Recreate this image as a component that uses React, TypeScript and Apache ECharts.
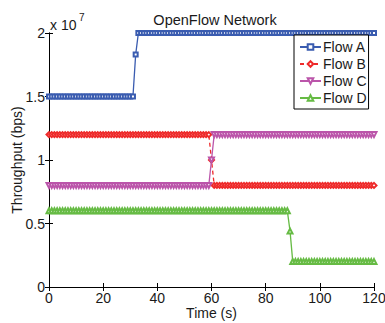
import React, { useEffect, useRef } from "react";
import * as echarts from "echarts";

// Time stamps (s)
const times = [
  0, 1, 2, 3, 4, 5, 6, 7, 8, 9,
  10, 11, 12, 13, 14, 15, 16, 17, 18, 19,
  20, 21, 22, 23, 24, 25, 26, 27, 28, 29,
  30, 31, 32, 33, 34, 35, 36, 37, 38, 39,
  40, 41, 42, 43, 44, 45, 46, 47, 48, 49,
  50, 51, 52, 53, 54, 55, 56, 57, 58, 59,
  60, 61, 62, 63, 64, 65, 66, 67, 68, 69,
  70, 71, 72, 73, 74, 75, 76, 77, 78, 79,
  80, 81, 82, 83, 84, 85, 86, 87, 88, 89,
  90, 91, 92, 93, 94, 95, 96, 97, 98, 99,
  100, 101, 102, 103, 104, 105, 106, 107, 108, 109,
  110, 111, 112, 113, 114, 115, 116, 117, 118, 119,
  120,
];

// Throughput in units of 10^7 bps
const flowA = [
  1.5, 1.5, 1.5, 1.5, 1.5, 1.5, 1.5, 1.5, 1.5, 1.5,
  1.5, 1.5, 1.5, 1.5, 1.5, 1.5, 1.5, 1.5, 1.5, 1.5,
  1.5, 1.5, 1.5, 1.5, 1.5, 1.5, 1.5, 1.5, 1.5, 1.5,
  1.5, 1.5, 1.83, 2, 2, 2, 2, 2, 2, 2,
  2, 2, 2, 2, 2, 2, 2, 2, 2, 2,
  2, 2, 2, 2, 2, 2, 2, 2, 2, 2,
  2, 2, 2, 2, 2, 2, 2, 2, 2, 2,
  2, 2, 2, 2, 2, 2, 2, 2, 2, 2,
  2, 2, 2, 2, 2, 2, 2, 2, 2, 2,
  2, 2, 2, 2, 2, 2, 2, 2, 2, 2,
  2, 2, 2, 2, 2, 2, 2, 2, 2, 2,
  2, 2, 2, 2, 2, 2, 2, 2, 2, 2,
  2,
];

const flowB = [
  1.2, 1.2, 1.2, 1.2, 1.2, 1.2, 1.2, 1.2, 1.2, 1.2,
  1.2, 1.2, 1.2, 1.2, 1.2, 1.2, 1.2, 1.2, 1.2, 1.2,
  1.2, 1.2, 1.2, 1.2, 1.2, 1.2, 1.2, 1.2, 1.2, 1.2,
  1.2, 1.2, 1.2, 1.2, 1.2, 1.2, 1.2, 1.2, 1.2, 1.2,
  1.2, 1.2, 1.2, 1.2, 1.2, 1.2, 1.2, 1.2, 1.2, 1.2,
  1.2, 1.2, 1.2, 1.2, 1.2, 1.2, 1.2, 1.2, 1.2, 1.2,
  1.0, 0.8, 0.8, 0.8, 0.8, 0.8, 0.8, 0.8, 0.8, 0.8,
  0.8, 0.8, 0.8, 0.8, 0.8, 0.8, 0.8, 0.8, 0.8, 0.8,
  0.8, 0.8, 0.8, 0.8, 0.8, 0.8, 0.8, 0.8, 0.8, 0.8,
  0.8, 0.8, 0.8, 0.8, 0.8, 0.8, 0.8, 0.8, 0.8, 0.8,
  0.8, 0.8, 0.8, 0.8, 0.8, 0.8, 0.8, 0.8, 0.8, 0.8,
  0.8, 0.8, 0.8, 0.8, 0.8, 0.8, 0.8, 0.8, 0.8, 0.8,
  0.8,
];

const flowC = [
  0.8, 0.8, 0.8, 0.8, 0.8, 0.8, 0.8, 0.8, 0.8, 0.8,
  0.8, 0.8, 0.8, 0.8, 0.8, 0.8, 0.8, 0.8, 0.8, 0.8,
  0.8, 0.8, 0.8, 0.8, 0.8, 0.8, 0.8, 0.8, 0.8, 0.8,
  0.8, 0.8, 0.8, 0.8, 0.8, 0.8, 0.8, 0.8, 0.8, 0.8,
  0.8, 0.8, 0.8, 0.8, 0.8, 0.8, 0.8, 0.8, 0.8, 0.8,
  0.8, 0.8, 0.8, 0.8, 0.8, 0.8, 0.8, 0.8, 0.8, 0.8,
  1.0, 1.2, 1.2, 1.2, 1.2, 1.2, 1.2, 1.2, 1.2, 1.2,
  1.2, 1.2, 1.2, 1.2, 1.2, 1.2, 1.2, 1.2, 1.2, 1.2,
  1.2, 1.2, 1.2, 1.2, 1.2, 1.2, 1.2, 1.2, 1.2, 1.2,
  1.2, 1.2, 1.2, 1.2, 1.2, 1.2, 1.2, 1.2, 1.2, 1.2,
  1.2, 1.2, 1.2, 1.2, 1.2, 1.2, 1.2, 1.2, 1.2, 1.2,
  1.2, 1.2, 1.2, 1.2, 1.2, 1.2, 1.2, 1.2, 1.2, 1.2,
  1.2,
];

const flowD = [
  0.6, 0.6, 0.6, 0.6, 0.6, 0.6, 0.6, 0.6, 0.6, 0.6,
  0.6, 0.6, 0.6, 0.6, 0.6, 0.6, 0.6, 0.6, 0.6, 0.6,
  0.6, 0.6, 0.6, 0.6, 0.6, 0.6, 0.6, 0.6, 0.6, 0.6,
  0.6, 0.6, 0.6, 0.6, 0.6, 0.6, 0.6, 0.6, 0.6, 0.6,
  0.6, 0.6, 0.6, 0.6, 0.6, 0.6, 0.6, 0.6, 0.6, 0.6,
  0.6, 0.6, 0.6, 0.6, 0.6, 0.6, 0.6, 0.6, 0.6, 0.6,
  0.6, 0.6, 0.6, 0.6, 0.6, 0.6, 0.6, 0.6, 0.6, 0.6,
  0.6, 0.6, 0.6, 0.6, 0.6, 0.6, 0.6, 0.6, 0.6, 0.6,
  0.6, 0.6, 0.6, 0.6, 0.6, 0.6, 0.6, 0.6, 0.6, 0.44,
  0.2, 0.2, 0.2, 0.2, 0.2, 0.2, 0.2, 0.2, 0.2, 0.2,
  0.2, 0.2, 0.2, 0.2, 0.2, 0.2, 0.2, 0.2, 0.2, 0.2,
  0.2, 0.2, 0.2, 0.2, 0.2, 0.2, 0.2, 0.2, 0.2, 0.2,
  0.2,
];

const seriesNames = ["Flow A", "Flow B", "Flow C", "Flow D"];
const chartTitle = "OpenFlow Network";
const xAxisName = "Time (s)";
const yAxisName = "Throughput (bps)";

const FONT = "'Liberation Sans', Arial, Helvetica, sans-serif";
const TXT = "#1a1a1a";

export default function App() {
  const ref = useRef<HTMLDivElement>(null);

  useEffect(() => {
    if (!ref.current) return;
    const chart = echarts.init(ref.current, null, { renderer: "svg" });

    const pair = (vals: number[]) => times.map((t, i) => [t, vals[i]]);

    const common = {
      type: "line" as const,
      clip: false,
      showAllSymbol: true,
      z: 3,
    };

    const axisLineStyle = { show: true, lineStyle: { color: "#000", width: 1 } };
    const tickStyle = { show: true, inside: true, length: 4, lineStyle: { color: "#000" } };

    const option: any = {
      animation: false,
      backgroundColor: "#ffffff",
      textStyle: { fontFamily: FONT },
      title: {
        text: chartTitle,
        left: 210,
        textAlign: "center",
        top: 7,
        textStyle: { fontSize: 14.5, fontWeight: "normal", color: TXT, fontFamily: FONT },
      },
      grid: {
        left: 49,
        right: 11,
        top: 33,
        bottom: 36,
        containLabel: false,
        outerBoundsMode: "none",
      },
      legend: {
        orient: "vertical",
        left: 294,
        top: 35,
        padding: [4, 2, 3, 5],
        itemGap: 1,
        itemWidth: 21,
        itemHeight: 7,
        backgroundColor: "#ffffff",
        borderColor: "#000000",
        borderWidth: 1,
        borderRadius: 0,
        textStyle: {
          fontSize: 14,
          color: TXT,
          fontFamily: FONT,
          padding: [0, 0, 0, -3],
          lineHeight: 16,
        },
        data: seriesNames,
      },
      xAxis: [
        {
          type: "value",
          min: 0,
          max: 120,
          interval: 20,
          name: xAxisName,
          nameLocation: "middle",
          nameGap: 19,
          nameMoveOverlap: false,
          nameTextStyle: { fontSize: 14, color: TXT, fontFamily: FONT },
          axisLine: axisLineStyle,
          axisTick: tickStyle,
          axisLabel: { fontSize: 14, color: TXT, margin: 4, fontFamily: FONT },
          splitLine: { show: false },
        },
        {
          type: "value",
          position: "top",
          min: 0,
          max: 120,
          interval: 20,
          axisLine: axisLineStyle,
          axisTick: tickStyle,
          axisLabel: { show: false },
          splitLine: { show: false },
        },
      ],
      yAxis: [
        {
          type: "value",
          min: 0,
          max: 2,
          interval: 0.5,
          name: yAxisName,
          nameLocation: "middle",
          nameGap: 25,
          nameMoveOverlap: false,
          nameTextStyle: { fontSize: 14, color: TXT, fontFamily: FONT },
          axisLine: axisLineStyle,
          axisTick: tickStyle,
          axisLabel: { fontSize: 14, color: TXT, margin: 4, fontFamily: FONT },
          splitLine: { show: false },
        },
        {
          type: "value",
          position: "right",
          min: 0,
          max: 2,
          interval: 0.5,
          axisLine: axisLineStyle,
          axisTick: tickStyle,
          axisLabel: { show: false },
          splitLine: { show: false },
        },
      ],
      graphic: [
        {
          type: "text",
          left: 50,
          top: 18,
          style: { text: "x 10", fontSize: 14, fill: TXT, fontFamily: FONT },
        },
        {
          type: "text",
          left: 79,
          top: 12,
          style: { text: "7", fontSize: 10, fill: TXT, fontFamily: FONT },
        },
      ],
      series: [
        {
          ...common,
          name: seriesNames[0],
          data: pair(flowA),
          symbol: "emptyRect",
          symbolSize: 4,
          color: "#3a5cb0",
          lineStyle: { color: "#3a5cb0", width: 1.3 },
          itemStyle: { color: "#3a5cb0", borderColor: "#3a5cb0", borderWidth: 1.2 },
        },
        {
          ...common,
          name: seriesNames[1],
          data: pair(flowB),
          symbol: "emptyDiamond",
          symbolSize: 5,
          color: "#ee2a2a",
          lineStyle: { color: "#ee2a2a", width: 1.3, type: [4, 3] },
          itemStyle: { color: "#ee2a2a", borderColor: "#ee2a2a", borderWidth: 1.2 },
        },
        {
          ...common,
          name: seriesNames[2],
          data: pair(flowC),
          symbol: "emptyTriangle",
          symbolRotate: 180,
          symbolSize: 5,
          color: "#bb55aa",
          lineStyle: { color: "#bb55aa", width: 1.3 },
          itemStyle: { color: "#bb55aa", borderColor: "#bb55aa", borderWidth: 1.2 },
        },
        {
          ...common,
          name: seriesNames[3],
          data: pair(flowD),
          symbol: "emptyTriangle",
          symbolSize: 5,
          color: "#66bb44",
          lineStyle: { color: "#66bb44", width: 1.3 },
          itemStyle: { color: "#66bb44", borderColor: "#66bb44", borderWidth: 1.2 },
        },
      ],
    };

    chart.setOption(option);
    return () => chart.dispose();
  }, []);

  return <div ref={ref} style={{ width: 385, height: 323, position: "fixed", left: 0, top: 0 }} />;
}
